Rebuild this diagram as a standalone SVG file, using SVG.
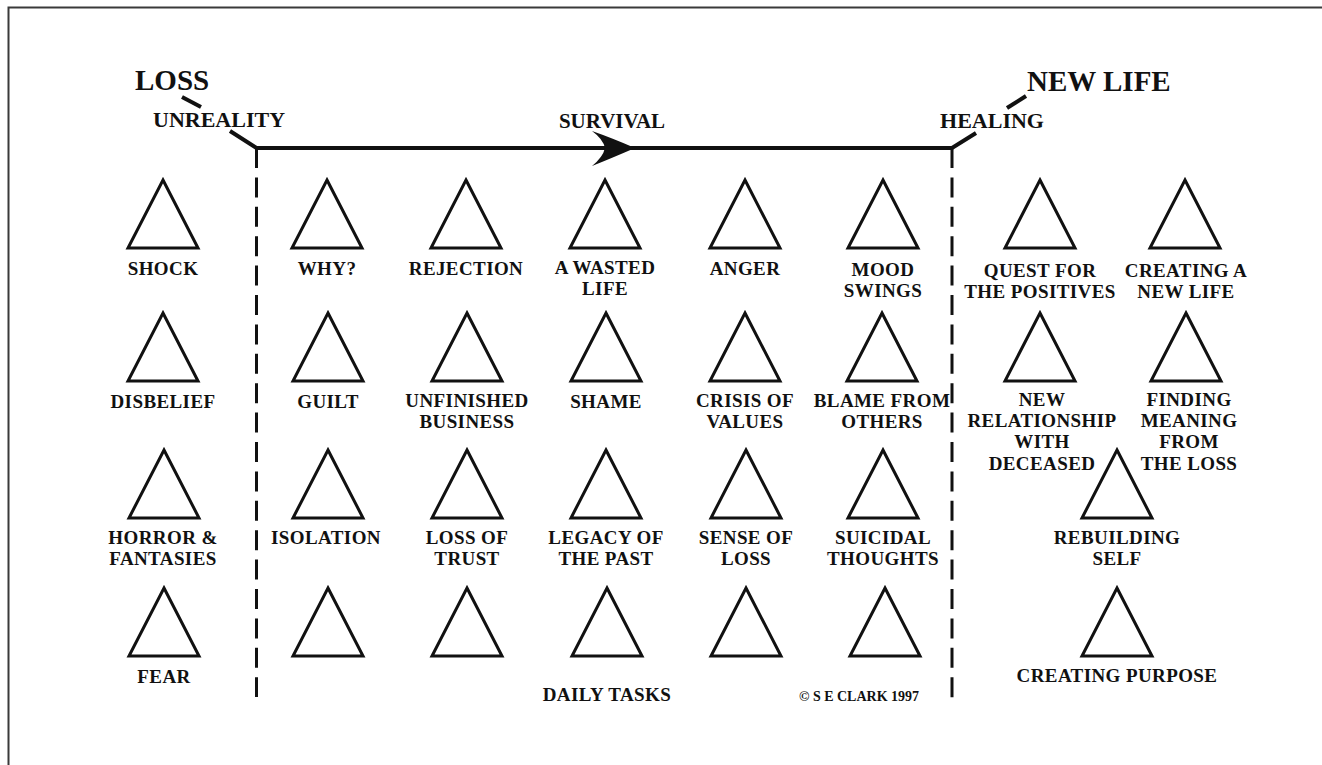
<svg xmlns="http://www.w3.org/2000/svg" xmlns:xlink="http://www.w3.org/1999/xlink" width="1322" height="765" viewBox="0 0 1322 765">
<style>
  text { font-family: "Liberation Serif", "DejaVu Serif", serif; font-weight: bold; fill: #111; }
  .lbl { font-size: 19px; letter-spacing: 0.4px; text-anchor: middle; }
  .head { font-size: 22px; }
  .big { font-size: 29px; }
  .tri { fill: none; stroke: #111; stroke-width: 3; stroke-linejoin: miter; }
  .axis { fill: none; stroke: #111; stroke-width: 4; stroke-linecap: butt; stroke-linejoin: miter; }
  .dash { fill: none; stroke: #111; stroke-width: 3; stroke-dasharray: 20 9.4; }
  .tick { stroke: #111; stroke-width: 4; }
</style>
<defs>
  <path id="t" d="M0,0 L35,68 L-35,68 Z"/>
</defs>
<rect width="1322" height="765" fill="#fff"/>
<path d="M8.5,765 L8.5,7.5 L1322,7.5" fill="none" stroke="#3a3a3a" stroke-width="2"/>

<g id="connectors">
  <path class="axis" d="M230,131 L256.5,148 L952,148 L976,133"/>
  <path d="M635,148 Q612,138 592,131 Q603,139 605,148 Q603,157 592,166 Q612,158 635,148 Z" fill="#111"/>
  <line class="tick" x1="182" y1="97" x2="201" y2="107"/>
  <line class="tick" x1="1007" y1="108" x2="1026" y2="96"/>
  <line class="dash" x1="256.5" y1="148" x2="256.5" y2="697"/>
  <line class="dash" x1="952" y1="148" x2="952" y2="699"/>
</g>

<g id="headings">
  <text class="big" x="135" y="90">LOSS</text>
  <text class="big" x="1027" y="91">NEW LIFE</text>
  <text class="head" x="153" y="127">UNREALITY</text>
  <text class="head" x="612" y="128" text-anchor="middle" style="font-size:21px">SURVIVAL</text>
  <text class="head" x="992" y="128" text-anchor="middle">HEALING</text>
</g>

<!-- column 0 -->
<g id="shock"><use href="#t" class="tri" x="163" y="180"/><text class="lbl" x="163" y="275">SHOCK</text></g>
<g id="disbelief"><use href="#t" class="tri" x="163" y="313"/><text class="lbl" x="163" y="408">DISBELIEF</text></g>
<g id="horror"><use href="#t" class="tri" x="164" y="450"/><text class="lbl" x="163" y="544">HORROR &amp;</text><text class="lbl" x="163" y="565.2">FANTASIES</text></g>
<g id="fear"><use href="#t" class="tri" x="164" y="588"/><text class="lbl" x="164" y="683">FEAR</text></g>

<!-- column 1 -->
<g id="why"><use href="#t" class="tri" x="327" y="180"/><text class="lbl" x="327" y="275">WHY?</text></g>
<g id="guilt"><use href="#t" class="tri" x="328" y="313"/><text class="lbl" x="328" y="408">GUILT</text></g>
<g id="isolation"><use href="#t" class="tri" x="328" y="450"/><text class="lbl" x="326" y="544">ISOLATION</text></g>
<g id="c1r4"><use href="#t" class="tri" x="328" y="588"/></g>

<!-- column 2 -->
<g id="rejection"><use href="#t" class="tri" x="466" y="180"/><text class="lbl" x="466" y="275">REJECTION</text></g>
<g id="unfinished"><use href="#t" class="tri" x="467" y="313"/><text class="lbl" x="467" y="407">UNFINISHED</text><text class="lbl" x="467" y="428.2">BUSINESS</text></g>
<g id="losstrust"><use href="#t" class="tri" x="467" y="450"/><text class="lbl" x="467" y="544">LOSS OF</text><text class="lbl" x="467" y="565.2">TRUST</text></g>
<g id="c2r4"><use href="#t" class="tri" x="467" y="588"/></g>

<!-- column 3 -->
<g id="wasted"><use href="#t" class="tri" x="605" y="180"/><text class="lbl" x="605" y="274">A WASTED</text><text class="lbl" x="605" y="295.2">LIFE</text></g>
<g id="shame"><use href="#t" class="tri" x="606" y="313"/><text class="lbl" x="606" y="408">SHAME</text></g>
<g id="legacy"><use href="#t" class="tri" x="606" y="450"/><text class="lbl" x="606" y="544">LEGACY OF</text><text class="lbl" x="606" y="565.2">THE PAST</text></g>
<g id="dailytasks"><use href="#t" class="tri" x="607" y="588"/><text class="lbl" x="607" y="701">DAILY TASKS</text></g>

<!-- column 4 -->
<g id="anger"><use href="#t" class="tri" x="745" y="180"/><text class="lbl" x="745" y="275">ANGER</text></g>
<g id="crisis"><use href="#t" class="tri" x="745" y="313"/><text class="lbl" x="745" y="407">CRISIS OF</text><text class="lbl" x="745" y="428.2">VALUES</text></g>
<g id="sense"><use href="#t" class="tri" x="746" y="450"/><text class="lbl" x="746" y="544">SENSE OF</text><text class="lbl" x="746" y="565.2">LOSS</text></g>
<g id="c4r4"><use href="#t" class="tri" x="746" y="588"/></g>

<!-- column 5 -->
<g id="mood"><use href="#t" class="tri" x="883" y="180"/><text class="lbl" x="883" y="276">MOOD</text><text class="lbl" x="883" y="297.2">SWINGS</text></g>
<g id="blame"><use href="#t" class="tri" x="882" y="313"/><text class="lbl" x="882" y="407">BLAME FROM</text><text class="lbl" x="882" y="428.2">OTHERS</text></g>
<g id="suicidal"><use href="#t" class="tri" x="883" y="450"/><text class="lbl" x="883" y="544">SUICIDAL</text><text class="lbl" x="883" y="565.2">THOUGHTS</text></g>
<g id="c5r4"><use href="#t" class="tri" x="885" y="588"/></g>

<!-- healing side -->
<g id="quest"><use href="#t" class="tri" x="1040" y="180"/><text class="lbl" x="1040" y="277">QUEST FOR</text><text class="lbl" x="1040" y="298.2">THE POSITIVES</text></g>
<g id="creatinglife"><use href="#t" class="tri" x="1185" y="180"/><text class="lbl" x="1186" y="277">CREATING A</text><text class="lbl" x="1186" y="298.2">NEW LIFE</text></g>
<g id="relationship"><use href="#t" class="tri" x="1040" y="313"/><text class="lbl" x="1042" y="406">NEW</text><text class="lbl" x="1042" y="427.2">RELATIONSHIP</text><text class="lbl" x="1042" y="448.4">WITH</text><text class="lbl" x="1042" y="469.6">DECEASED</text></g>
<g id="meaning"><use href="#t" class="tri" x="1186" y="313"/><text class="lbl" x="1189" y="406">FINDING</text><text class="lbl" x="1189" y="427.2">MEANING</text><text class="lbl" x="1189" y="448.4">FROM</text><text class="lbl" x="1189" y="469.6">THE LOSS</text></g>
<g id="rebuilding"><use href="#t" class="tri" x="1117" y="450"/><text class="lbl" x="1117" y="544">REBUILDING</text><text class="lbl" x="1117" y="565.2">SELF</text></g>
<g id="purpose"><use href="#t" class="tri" x="1117" y="588"/><text class="lbl" x="1117" y="682">CREATING PURPOSE</text></g>

<text x="859" y="701" text-anchor="middle" style="font-size:14px">© S E CLARK 1997</text>
</svg>
